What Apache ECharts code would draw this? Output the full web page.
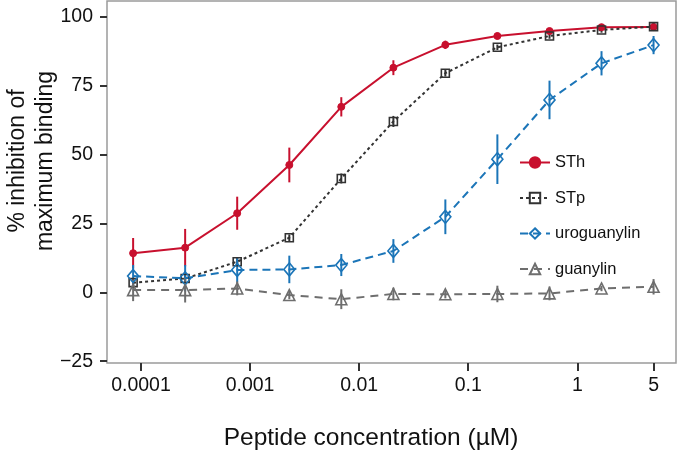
<!DOCTYPE html>
<html>
<head>
<meta charset="utf-8">
<script src="https://cdn.jsdelivr.net/npm/echarts@6/dist/echarts.min.js"></script>
<style>
html,body{margin:0;padding:0;background:#fff;}
#chart{width:680px;height:451px;}
</style>
</head>
<body>
<div id="chart"></div>
<script>
// ---- data ----
var concentrations = [0.0000847, 0.000254, 0.000762, 0.00229, 0.00686, 0.0206, 0.0617, 0.185, 0.556, 1.667, 5];
var xTickValues = [0.0001, 0.001, 0.01, 0.1, 1, 5];
var xTickLabels = ['0.0001', '0.001', '0.01', '0.1', '1', '5'];
var yTickValues = [-25, 0, 25, 50, 75, 100];

var seriesNames = ['STh', 'STp', 'uroguanylin', 'guanylin'];
var sthValues = [14.2, 16.2, 28.7, 46.2, 67.3, 81.5, 89.8, 93.0, 94.8, 96.2, 96.3];
var sthErrors = [5.5, 6.8, 6.0, 6.3, 3.5, 2.7, 1.5, 1.2, 1.0, 1.0, 1.5];
var stpValues = [3.5, 5.0, 11.1, 19.8, 41.3, 62.0, 79.5, 88.9, 93.0, 95.2, 96.4];
var stpErrors = [1.5, 1.2, 1.5, 1.2, 1.8, 2.0, 1.2, 1.0, 1.0, 1.0, 1.2];
var uroValues = [5.9, 5.1, 8.1, 8.3, 9.9, 15.0, 27.4, 48.3, 69.8, 83.1, 89.7];
var uroErrors = [4.0, 4.8, 4.5, 5.0, 4.0, 4.3, 6.3, 9.0, 7.0, 4.4, 3.3];
var guaValues = [0.8, 0.8, 1.4, -1.0, -2.5, -0.6, -0.7, -0.6, -0.4, 1.4, 2.0];
var guaErrors = [4.0, 4.5, 2.5, 1.5, 3.6, 2.3, 1.5, 3.0, 2.5, 1.0, 2.8];

var xTitle = 'Peptide concentration (\u00B5M)';
var yTitleLines = ['% inhibition of', 'maximum binding'];

// ---- styling ----
var FONT = "'Liberation Sans', Arial, Helvetica, sans-serif";
var colors = ['#c8102e', '#333333', '#1b75b8', '#6e6e6e'];
var lineTypes = ['solid', [3, 3], [8, 5], [8, 6]];
var symbols = ['circle', 'rect', 'diamond', 'triangle'];
var symbolSizes = [7, 8, [11, 13], 11];
var valueSets = [sthValues, stpValues, uroValues, guaValues];
var errorSets = [sthErrors, stpErrors, uroErrors, guaErrors];

function pairs(vals) {
  return concentrations.map(function (c, i) { return [c, vals[i]]; });
}
function errData(vals, errs) {
  return concentrations.map(function (c, i) { return [c, vals[i] - errs[i], vals[i] + errs[i]]; });
}

var series = [];
seriesNames.forEach(function (name, k) {
  series.push({
    name: name + ' err',
    type: 'custom',
    data: errData(valueSets[k], errorSets[k]),
    encode: { x: 0, y: [1, 2] },
    z: 3,
    silent: true,
    renderItem: (function (col) {
      return function (params, api) {
        var p1 = api.coord([api.value(0), api.value(1)]);
        var p2 = api.coord([api.value(0), api.value(2)]);
        return {
          type: 'line',
          shape: { x1: p1[0], y1: p1[1], x2: p2[0], y2: p2[1] },
          style: { stroke: col, lineWidth: 2 }
        };
      };
    })(colors[k])
  });
});
seriesNames.forEach(function (name, k) {
  var filled = k === 0;
  series.push({
    name: name,
    type: 'line',
    data: pairs(valueSets[k]),
    symbol: symbols[k],
    symbolSize: symbolSizes[k],
    showSymbol: true,
    z: 4,
    lineStyle: { color: colors[k], width: 2, type: lineTypes[k] },
    itemStyle: {
      color: filled ? colors[k] : 'rgba(255,255,255,0)',
      borderColor: colors[k],
      borderWidth: filled ? 1 : 1.6
    }
  });
});

var chart = echarts.init(document.getElementById('chart'), null, { renderer: 'canvas' });
chart.setOption({
  animation: false,
  backgroundColor: '#ffffff',
  textStyle: { fontFamily: FONT },
  grid: {
    left: 107, right: 4, top: 1, bottom: 88,
    show: true, borderColor: '#9a9a9a', borderWidth: 1.5, backgroundColor: 'transparent'
  },
  xAxis: {
    type: 'log',
    logBase: 10,
    min: 0.0000488,
    max: 8.03,
    axisLine: { show: false, onZero: false },
    splitLine: { show: false },
    minorTick: { show: false },
    axisTick: { show: true, inside: false, length: 8, lineStyle: { color: '#333', width: 2 }, customValues: xTickValues },
    axisLabel: {
      customValues: xTickValues,
      fontSize: 19.5, color: '#111', fontFamily: FONT, margin: 13,
      formatter: function (v) {
        for (var i = 0; i < xTickValues.length; i++) {
          if (Math.abs(Math.log10(v) - Math.log10(xTickValues[i])) < 1e-6) return xTickLabels[i];
        }
        return '';
      }
    }
  },
  yAxis: {
    type: 'value',
    min: -25.65,
    max: 105.7,
    axisLine: { show: false, onZero: false },
    splitLine: { show: false },
    axisTick: { show: true, inside: false, length: 7, lineStyle: { color: '#333', width: 2 }, customValues: yTickValues },
    axisLabel: {
      customValues: yTickValues,
      fontSize: 19.5, color: '#111', fontFamily: FONT, margin: 14,
      formatter: function (v) { return String(v).replace('-', '\u2212'); }
    }
  },
  legend: {
    data: seriesNames,
    orient: 'vertical',
    left: 514,
    top: 149,
    itemWidth: 30,
    itemHeight: 13,
    itemGap: 18.5,
    textStyle: { fontSize: 16.5, color: '#111', fontFamily: FONT, lineHeight: 17 }
  },
  graphic: [
    {
      type: 'text', x: 371, y: 438,
      style: { text: xTitle, font: '24.5px ' + FONT, fill: '#111', align: 'center', verticalAlign: 'middle' }
    },
    {
      type: 'text', x: 18, y: 161, rotation: Math.PI / 2,
      style: { text: yTitleLines[0], font: '23px ' + FONT, fill: '#111', align: 'center', verticalAlign: 'middle' }
    },
    {
      type: 'text', x: 46, y: 161, rotation: Math.PI / 2,
      style: { text: yTitleLines[1], font: '23px ' + FONT, fill: '#111', align: 'center', verticalAlign: 'middle' }
    }
  ],
  series: series
});
</script>
</body>
</html>
